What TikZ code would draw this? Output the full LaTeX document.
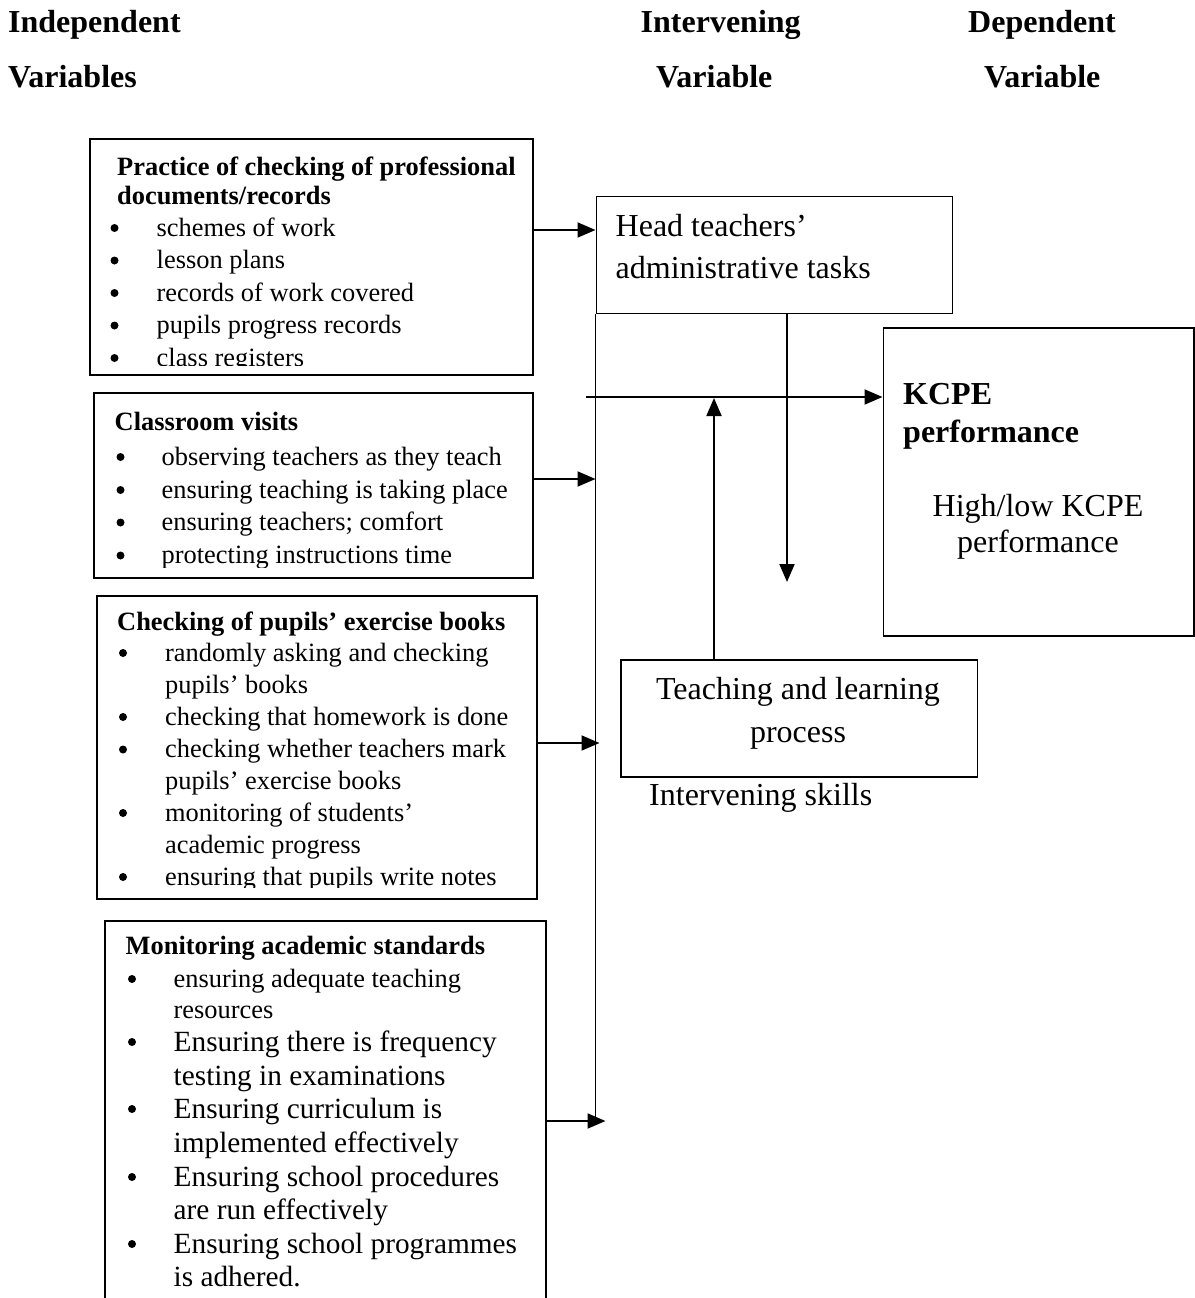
\documentclass[tikz,border=0pt]{standalone}
\usepackage{fontspec}
\setmainfont{Liberation Serif}
\usetikzlibrary{arrows.meta,calc}
\begin{document}
\begin{tikzpicture}[x=1pt,y=-1pt,
  box/.style={draw, line width=1.5pt, inner sep=0pt, anchor=north west},
  arr/.style={line width=1.9pt, -{Triangle[length=18pt,width=15pt]}},
  ln/.style={line width=1.5pt},
  tx/.style={anchor=base west, inner sep=0pt, font=\fontsize{26.4}{30}\selectfont},
  txb/.style={anchor=base west, inner sep=0pt, font=\fontsize{26.4}{30}\selectfont\bfseries},
  dot/.style={circle, fill, inner sep=0pt, minimum size=8pt},
  mid/.style={anchor=base west, inner sep=0pt, font=\fontsize{29.3}{33}\selectfont},
  big/.style={anchor=base west, inner sep=0pt, font=\fontsize{32}{36}\selectfont},
  bigc/.style={anchor=base, inner sep=0pt, font=\fontsize{32}{36}\selectfont},
  bigb/.style={anchor=base west, inner sep=0pt, font=\fontsize{32}{36}\selectfont\bfseries},
]
\useasboundingbox (0,0) rectangle (1194,1298);
\fill[white] (0,0) rectangle (1194,1298);

% headers
\node[bigb] (h1) at (8,33) {Independent};
\node[bigb] (h2) at (8,88) {Variables};
\node[bigb] (h3) at (640.5,33) {Intervening};
\node[bigb] (h4) at (656,88) {Variable};
\node[bigb] (h5) at (968,33) {Dependent};
\node[bigb] (h6) at (984,88) {Variable};

% boxes
\node[box, minimum width=443pt, minimum height=236pt] (b1) at (89,138) {};
\node[box, minimum width=439pt, minimum height=185pt] (b2) at (93,392) {};
\node[box, minimum width=440pt, minimum height=303pt] (b3) at (96,595) {};
\node[box, minimum width=441pt, minimum height=400pt] (b4) at (104,920) {};
\node[box, minimum width=356pt, minimum height=117pt] (hd) at (595.5,195.5) {};
\node[box, minimum width=310.5pt, minimum height=308pt] (kc) at (882.5,327) {};
\node[box, minimum width=356.5pt, minimum height=117pt] (tl) at (620,659) {};

% box 1 text
\begin{scope}
\clip (89,138) rectangle (532,365);
\node[txb] (t1a) at (117,175) {Practice of checking of professional};
\node[txb] (t1b) at (117,204.5) {documents/records};
\node[dot] (u1a) at (114.5,228) {}; \node[tx] (t1c) at (156.5,236) {schemes of work};
\node[dot] (u1b) at (114.5,260.5) {}; \node[tx] (t1d) at (156.5,268.5) {lesson plans};
\node[dot] (u1c) at (114.5,293) {}; \node[tx] (t1e) at (156.5,301) {records of work covered};
\node[dot] (u1d) at (114.5,325.5) {}; \node[tx] (t1f) at (156.5,333.5) {pupils progress records};
\node[dot] (u1e) at (114.5,358) {}; \node[tx] (t1g) at (156.5,366) {class registers};
\end{scope}

% box 2 text
\begin{scope}
\clip (93,392) rectangle (532,567);
\node[txb] (t2a) at (114.5,430) {Classroom visits};
\node[dot] (u2a) at (120.5,457) {}; \node[tx] (t2b) at (161.5,465) {observing teachers as they teach};
\node[dot] (u2b) at (120.5,490) {}; \node[tx] (t2c) at (161.5,498) {ensuring teaching is taking place};
\node[dot] (u2c) at (120.5,522.5) {}; \node[tx] (t2d) at (161.5,530.5) {ensuring teachers; comfort};
\node[dot] (u2d) at (120.5,555.5) {}; \node[tx] (t2e) at (161.5,563.5) {protecting instructions time};
\end{scope}

% box 3 text
\begin{scope}
\clip (96,595) rectangle (536,887.5);
\node[txb] (t3a) at (117,630) {Checking of pupils’ exercise books};
\node[dot] (u3a) at (123,653) {}; \node[tx] (t3b) at (165,661) {randomly asking and checking};
\node[tx] (t3c) at (165,693) {pupils’ books};
\node[dot] (u3b) at (123,717) {}; \node[tx] (t3d) at (165,725) {checking that homework is done};
\node[dot] (u3c) at (123,749.5) {}; \node[tx] (t3e) at (165,757.5) {checking whether teachers mark};
\node[tx] (t3f) at (165,789) {pupils’ exercise books};
\node[dot] (u3d) at (123,813) {}; \node[tx] (t3g) at (165,821) {monitoring of students’};
\node[tx] (t3h) at (165,853) {academic progress};
\node[dot] (u3e) at (123,877) {}; \node[tx] (t3i) at (165,885) {ensuring that pupils write notes};
\end{scope}

% box 4 text
\node[txb] (t4a) at (125.5,954) {Monitoring academic standards};
\node[dot] (u4a) at (132,979) {}; \node[tx] (t4b) at (173.5,987) {ensuring adequate teaching};
\node[tx] (t4c) at (173.5,1018) {resources};
\node[dot] (u4b) at (132,1042) {}; \node[mid] (t4d) at (173.5,1051) {Ensuring there is frequency};
\node[mid] (t4e) at (173.5,1085) {testing in examinations};
\node[dot] (u4c) at (132,1109) {}; \node[mid] (t4f) at (173.5,1118) {Ensuring curriculum is};
\node[mid] (t4g) at (173.5,1152) {implemented effectively};
\node[dot] (u4d) at (132,1177) {}; \node[mid] (t4h) at (173.5,1186) {Ensuring school procedures};
\node[mid] (t4i) at (173.5,1219.5) {are run effectively};
\node[dot] (u4e) at (132,1244) {}; \node[mid] (t4j) at (173.5,1253) {Ensuring school programmes};
\node[mid] (t4k) at (173.5,1286.5) {is adhered.};

% right side text
\node[big] (hda) at (615.5,236) {Head teachers’};
\node[big] (hdb) at (615.5,278.5) {administrative tasks};
\node[bigb] (kca) at (903,404.5) {KCPE};
\node[bigb] (kcb) at (903,442.5) {performance};
\node[bigc] (kcc) at (1038,516) {High/low KCPE};
\node[bigc] (kcd) at (1038,552) {performance};
\node[bigc] (tla) at (798,699.5) {Teaching and learning};
\node[bigc] (tlb) at (798,742.5) {process};
\node[big] (isk) at (649,805) {Intervening skills};

% connectors
\coordinate (vb) at (hd.west |- 0,1121);
\draw[ln] (hd.south west) -- (vb);
\draw[arr] (b1.east |- 0,230) -- (hd.west |- 0,230);
\draw[arr] (b2.east |- 0,479) -- (vb |- 0,479);
\coordinate (e3) at (599.5,743);
\draw[arr] (b3.east |- e3) -- (e3);
\coordinate (e4) at (605.5,1121);
\draw[arr] (b4.east |- e4) -- (e4);
\coordinate (hs) at (586,397);
\draw[arr] (hs) -- (kc.west |- hs);
\coordinate (dn) at (787,582);
\draw[arr] (hd.south -| dn) -- (dn);
\coordinate (up) at (714,398);
\draw[arr] (tl.north -| up) -- (up);
\end{tikzpicture}
\end{document}
